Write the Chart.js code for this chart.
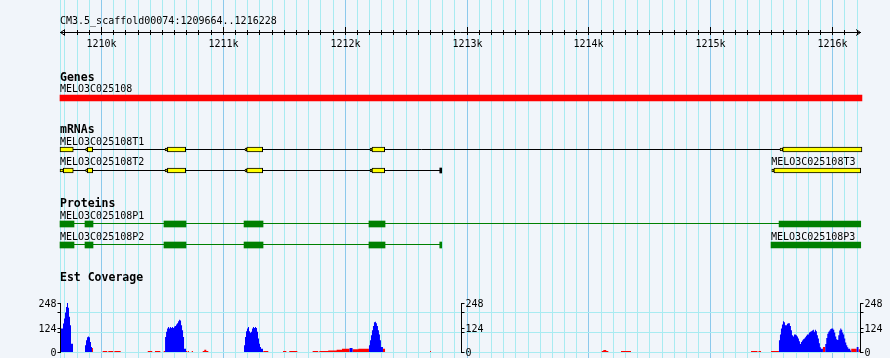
<!DOCTYPE html>
<html><head><meta charset="utf-8">
<script src="https://cdn.jsdelivr.net/npm/chart.js@4.4.1/dist/chart.umd.min.js"></script>
<style>
html,body{margin:0;padding:0;background:#f1f5fa;}
#wrap{position:relative;width:890px;height:358px;background:#f1f5fa;}
canvas{display:block;}
</style></head><body>
<div id="wrap"><canvas id="c" width="890" height="358"></canvas></div>
<script>
// ---------------- data ----------------
const refName = 'CM3.5_scaffold00074';
const viewStart = 1209664, viewEnd = 1216228;
const rulerMajorTicks = [1210000, 1211000, 1212000, 1213000, 1214000, 1215000, 1216000];
const rulerMajorLabels = ['1210k', '1211k', '1212k', '1213k', '1214k', '1215k', '1216k'];
const rulerMinorStep = 100;

const trackTitles = ['Genes', 'mRNAs', 'Proteins', 'Est Coverage'];

// Genes
const geneNames = ['MELO3C025108'];
const geneSpans = [[1209664, 1216244]];

// mRNAs
const mrnaNames = ['MELO3C025108T1', 'MELO3C025108T2', 'MELO3C025108T3'];
const mrnaSpans = [[1209664, 1216244], [1209664, 1212796], [1215504, 1216234]];
const t1Exons = [[1209664, 1209773], [1209888, 1209932], [1210545, 1210695], [1211196, 1211327], [1212224, 1212328], [1215594, 1216244]];
const t1ExonCaps = [[1209875, 1209888], [1210526, 1210545], [1211182, 1211196], [1212208, 1212224], [1215572, 1215594]];
const t2Exons = [[1209691, 1209773], [1209888, 1209932], [1210545, 1210695], [1211196, 1211327], [1212224, 1212328]];
const t2ExonCaps = [[1209664, 1209691], [1209875, 1209888], [1210526, 1210545], [1211182, 1211196], [1212208, 1212224]];
const t2EndMark = [[1212780, 1212796]];
const t3Exons = [[1215522, 1216234]];
const t3ExonCaps = [[1215504, 1215522]];

// Proteins
const proteinNames = ['MELO3C025108P1', 'MELO3C025108P2', 'MELO3C025108P3'];
const proteinSpans = [[1209664, 1216234], [1209664, 1212796], [1215498, 1216234]];
const p1Exons = [[1209664, 1209779], [1209869, 1209935], [1210517, 1210698], [1211174, 1211330], [1212199, 1212331], [1215564, 1216234]];
const p2Exons = [[1209664, 1209779], [1209869, 1209935], [1210517, 1210698], [1211174, 1211330], [1212199, 1212331]];
const p2EndMark = [[1212780, 1212796]];
const p3Exons = [[1215498, 1216234]];

// Est coverage (blue histogram peaks: first bin start + per-bin values)
const covBinBp = 8.2;
const bluePeakStarts = [1209664, 1209869, 1210526, 1211174, 1212040, 1212199, 1215563, 1215943, 1216201];
const bluePeakValues = [
  [98, 119, 119, 144, 170, 200, 228, 248, 224, 178, 136, 42, 42],
  [34, 59, 75, 78, 75, 51, 25],
  [76, 102, 119, 126, 119, 126, 122, 126, 122, 129, 132, 139, 146, 156, 163, 160, 136, 110, 76, 17, 17],
  [34, 76, 105, 119, 126, 105, 98, 102, 119, 126, 122, 126, 122, 102, 68, 42, 25, 17, 17],
  [20, 20, 20],
  [34, 59, 85, 110, 132, 150, 153, 146, 132, 110, 88, 59, 25, 25],
  [59, 88, 119, 139, 156, 150, 136, 136, 143, 146, 146, 132, 110, 85, 78, 88, 88, 85, 78, 68, 54, 41,
   51, 58, 65, 68, 75, 82, 88, 88, 99, 102, 105, 109, 112, 102, 112, 105, 85, 68, 44, 24, 17, 17],
  [41, 71, 92, 102, 109, 116, 119, 119, 112, 99, 78, 65, 61, 85, 109, 119, 112, 99, 88, 68, 48, 34, 24, 17, 17, 8],
  [25, 25]
];
// red low-coverage segments: start, end, value
const redSegStart = [1209927, 1210014, 1210060, 1210110, 1210384, 1210443, 1210515, 1210695, 1210712, 1210745,
  1210835, 1210848, 1210864, 1211332, 1211494, 1211545, 1211737, 1211792, 1211865, 1211934, 1211978,
  1212064, 1212112, 1212314, 1212700, 1214109, 1214122, 1214146, 1214267, 1215334, 1215395, 1215498,
  1215924, 1216156, 1216217];
const redSegEnd = [1209935, 1210052, 1210101, 1210162, 1210421, 1210487, 1210526, 1210706, 1210722, 1210755,
  1210848, 1210864, 1210881, 1211373, 1211521, 1211611, 1211783, 1211865, 1211934, 1211978, 1212040,
  1212112, 1212199, 1212331, 1212708, 1214122, 1214146, 1214163, 1214349, 1215387, 1215416, 1215563,
  1215943, 1216201, 1216228];
const redSegValue = [20, 5, 5, 5, 5, 5, 5, 5, 5, 5,
  5, 12, 5, 5, 5, 5, 5, 5, 8, 12, 16,
  14, 17, 17, 5, 5, 10, 5, 5, 5, 5, 5,
  25, 17, 14];
const covMax = 248;
const covAxisTicks = [0, 124, 248];
const covGridValues = [0, 100, 200];
const covAxisPositions = [1209664, 1212954, 1216228];

// ---------------- layout / style ----------------
const rows = {
  rulerTitle: 24, rulerLine: 32.5, rulerLabel: 47,
  genesTitle: 81, geneLabel: 92, gene: 98,
  mrnaTitle: 133, t1Label: 145, t1: 149.5, t2Label: 165, t2: 170.5,
  protTitle: 207, p1Label: 218.5, p1: 224, p1Line: 223.5, p2Label: 239.5, p2: 245, p2Line: 244.5,
  covTitle: 281
};
const covTopPx = 303, covBottomPx = 352, canvasH = 358;
const covUnitsPerPx = covMax / (covBottomPx - covTopPx);
const C = {
  minorGrid: '#a8ebf1', majorGrid: '#8cc9ec', text: '#000000',
  gene: '#ff0000', exon: '#ffff00', exonBorder: '#000000', intron: '#000000',
  protein: '#008000', covBlue: '#0000ff', covRed: '#ff0000'
};
const FONT = "10px 'DejaVu Sans Mono'";
const FONT_BOLD = "bold 11.5px 'DejaVu Sans Mono'";

// ---------------- helpers ----------------
const bars = (spans, row) => spans.map(s => ({ x: s, y: row }));
const barDs = (spans, row, color, thick, border, order) => ({
  type: 'bar', indexAxis: 'y', xAxisID: 'x', yAxisID: 'y', grouped: false,
  data: bars(spans, row), backgroundColor: color,
  borderColor: border ? C.exonBorder : color, borderWidth: border ? 1 : 0, borderSkipped: false,
  barThickness: thick, clip: false, order: order
});
const lineDs = (from, to, row, color, order) => ({
  type: 'line', xAxisID: 'x', yAxisID: 'y', data: [{ x: from, y: row }, { x: to, y: row }],
  borderColor: color, borderWidth: 1, pointRadius: 0, fill: false, order: order
});
const bluePoints = [];
bluePeakStarts.forEach((s, k) => {
  const vals = bluePeakValues[k];
  vals.forEach((v, i) => bluePoints.push({ x: s + i * covBinBp, y: v }));
  bluePoints.push({ x: s + vals.length * covBinBp, y: 0 });
});
const redPoints = [];
redSegStart.forEach((s, i) => { redPoints.push({ x: s, y: redSegValue[i] }); redPoints.push({ x: redSegEnd[i], y: 0 }); });
const covDs = (pts, color) => ({
  type: 'line', xAxisID: 'x', yAxisID: 'yCov', data: pts, stepped: 'before',
  borderColor: 'rgba(0,0,0,0)', borderWidth: 1, backgroundColor: color, fill: 'origin', pointRadius: 0, order: 10
});

const datasets = [
  barDs(geneSpans, rows.gene, C.gene, 6, false, 1),
  lineDs(t1Exons[0][0], t1Exons[t1Exons.length - 1][0], rows.t1, C.intron, 4),
  lineDs(t2ExonCaps[0][0], t2EndMark[0][1], rows.t2, C.intron, 4),
  barDs(t1ExonCaps, rows.t1, C.exon, 3, true, 2),
  barDs(t2ExonCaps, rows.t2, C.exon, 3, true, 2),
  barDs(t3ExonCaps, rows.t2, C.exon, 3, true, 2),
  barDs(t1Exons, rows.t1, C.exon, 5, true, 1),
  barDs(t2Exons, rows.t2, C.exon, 5, true, 1),
  barDs(t3Exons, rows.t2, C.exon, 5, true, 1),
  barDs(t2EndMark, rows.t2, C.intron, 5, false, 1),
  lineDs(p1Exons[0][0], p1Exons[p1Exons.length - 1][0], rows.p1Line, C.protein, 4),
  lineDs(p2Exons[0][0], p2EndMark[0][1], rows.p2Line, C.protein, 4),
  barDs(p1Exons, rows.p1, C.protein, 6, false, 1),
  barDs(p2Exons, rows.p2, C.protein, 6, false, 1),
  barDs(p3Exons, rows.p2, C.protein, 6, false, 1),
  barDs(p2EndMark, rows.p2, C.protein, 6, false, 1),
  covDs(bluePoints, C.covBlue),
  covDs(redPoints, C.covRed)
];

const gbPlugin = {
  id: 'gb',
  beforeDatasetsDraw(chart) {
    const ctx = chart.ctx, x = chart.scales.x, yc = chart.scales.yCov;
    ctx.save();
    ctx.lineWidth = 1;
    // vertical grid
    ctx.strokeStyle = C.minorGrid;
    ctx.beginPath(); ctx.moveTo(x.left + 0.5, 0); ctx.lineTo(x.left + 0.5, chart.height); ctx.stroke();
    for (let v = Math.ceil(viewStart / rulerMinorStep) * rulerMinorStep; v <= viewEnd; v += rulerMinorStep) {
      const px = Math.round(x.getPixelForValue(v)) + 0.5;
      ctx.strokeStyle = rulerMajorTicks.includes(v) ? C.majorGrid : C.minorGrid;
      ctx.beginPath(); ctx.moveTo(px, 0); ctx.lineTo(px, chart.height); ctx.stroke();
    }
    // coverage horizontal grid
    ctx.strokeStyle = C.minorGrid;
    covGridValues.forEach(v => {
      const py = Math.round(yc.getPixelForValue(v)) + 0.5;
      ctx.beginPath(); ctx.moveTo(x.left, py); ctx.lineTo(x.right + 1, py); ctx.stroke();
    });
    ctx.restore();
  },
  afterDatasetsDraw(chart) {
    const ctx = chart.ctx, x = chart.scales.x, yc = chart.scales.yCov;
    const X = v => x.getPixelForValue(v);
    ctx.save();
    ctx.fillStyle = C.text; ctx.strokeStyle = C.text; ctx.lineWidth = 1;
    // ruler
    ctx.font = FONT; ctx.textBaseline = 'alphabetic'; ctx.textAlign = 'left';
    ctx.fillText(refName + ':' + viewStart + '..' + viewEnd, x.left, rows.rulerTitle);
    const ry = rows.rulerLine;
    ctx.beginPath(); ctx.moveTo(x.left, ry); ctx.lineTo(x.right + 1, ry); ctx.stroke();
    ctx.beginPath(); ctx.moveTo(x.left + 5, ry - 3); ctx.lineTo(x.left + 0.5, ry); ctx.lineTo(x.left + 5, ry + 3); ctx.stroke();
    ctx.beginPath(); ctx.moveTo(x.right - 4, ry - 3); ctx.lineTo(x.right + 0.5, ry); ctx.lineTo(x.right - 4, ry + 3); ctx.stroke();
    for (let v = Math.ceil(viewStart / rulerMinorStep) * rulerMinorStep; v <= viewEnd; v += rulerMinorStep) {
      const px = Math.round(X(v)) + 0.5;
      const major = rulerMajorTicks.includes(v);
      ctx.beginPath(); ctx.moveTo(px, major ? ry - 5.5 : ry - 2.5); ctx.lineTo(px, ry + 2.5); ctx.stroke();
    }
    ctx.textAlign = 'center';
    rulerMajorTicks.forEach((v, i) => ctx.fillText(rulerMajorLabels[i], Math.round(X(v)) + 0.5, rows.rulerLabel));
    // track titles
    ctx.textAlign = 'left'; ctx.font = FONT_BOLD;
    [rows.genesTitle, rows.mrnaTitle, rows.protTitle, rows.covTitle].forEach((r, i) => ctx.fillText(trackTitles[i], x.left, r));
    // feature labels
    ctx.font = FONT;
    const lbl = (name, bp, base) => ctx.fillText(name, Math.max(X(bp), x.left), base);
    lbl(geneNames[0], geneSpans[0][0], rows.geneLabel);
    lbl(mrnaNames[0], mrnaSpans[0][0], rows.t1Label);
    lbl(mrnaNames[1], mrnaSpans[1][0], rows.t2Label);
    lbl(mrnaNames[2], mrnaSpans[2][0] - 5, rows.t2Label);
    lbl(proteinNames[0], proteinSpans[0][0], rows.p1Label);
    lbl(proteinNames[1], proteinSpans[1][0], rows.p2Label);
    lbl(proteinNames[2], proteinSpans[2][0], rows.p2Label);
    // coverage axes
    const yTop = Math.round(yc.getPixelForValue(covMax)), yBot = Math.round(yc.getPixelForValue(0)) + 1;
    covAxisPositions.forEach((bp, k) => {
      const px = Math.round(X(bp)) + 0.5;
      ctx.strokeStyle = C.text;
      ctx.beginPath(); ctx.moveTo(px, yTop); ctx.lineTo(px, yBot); ctx.stroke();
      const dir = k === 0 ? -1 : 1;
      covAxisTicks.concat(covGridValues.slice(1)).forEach(v => {
        const py = Math.round(yc.getPixelForValue(v)) + 0.5;
        ctx.beginPath(); ctx.moveTo(px, py); ctx.lineTo(px + dir * 3, py); ctx.stroke();
      });
      ctx.textAlign = k === 0 ? 'right' : 'left'; ctx.textBaseline = 'middle';
      covAxisTicks.forEach(v => {
        ctx.fillText(String(v), px + dir * 4, Math.round(yc.getPixelForValue(v)) + 1);
      });
    });
    ctx.restore();
  }
};

new Chart(document.getElementById('c'), {
  type: 'bar',
  data: { datasets },
  options: {
    responsive: false, animation: false, devicePixelRatio: 1,
    layout: { padding: { left: 60, right: 30, top: 0, bottom: 0 } },
    plugins: { legend: { display: false }, tooltip: { enabled: false } },
    events: [],
    scales: {
      x: { type: 'linear', offset: false, min: viewStart, max: viewEnd, display: false },
      y: { type: 'linear', offset: false, min: 0, max: canvasH, reverse: true, display: false },
      yCov: { type: 'linear', axis: 'y', offset: false,
        min: -(canvasH - covBottomPx) * covUnitsPerPx, max: covMax + covTopPx * covUnitsPerPx, display: false }
    }
  },
  plugins: [gbPlugin]
});
</script>
</body></html>
